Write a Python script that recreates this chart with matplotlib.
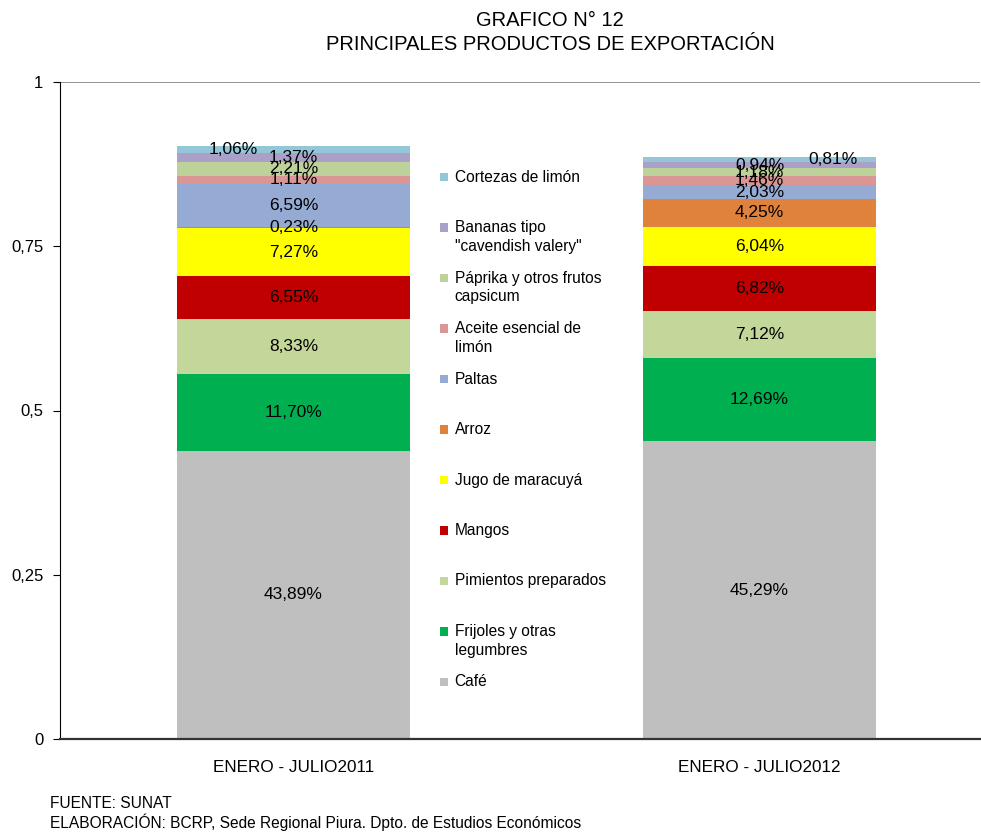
import matplotlib.pyplot as plt
from matplotlib.patches import Rectangle

plt.rcParams['font.family'] = ['Liberation Sans', 'DejaVu Sans']

periodos = ["ENERO - JULIO2011", "ENERO - JULIO2012"]

# bottom to top, as stacked in the bars
productos = ["Café", "Frijoles y otras\nlegumbres", "Pimientos preparados", "Mangos",
             "Jugo de maracuyá", "Arroz", "Paltas", "Aceite esencial de\nlimón",
             "Páprika y otros frutos\ncapsicum", "Bananas tipo\n\"cavendish valery\"",
             "Cortezas de limón"]
valores_2011 = [43.89, 11.70, 8.33, 6.55, 7.27, 0.23, 6.59, 1.11, 2.21, 1.37, 1.06]
valores_2012 = [45.29, 12.69, 7.12, 6.82, 6.04, 4.25, 2.03, 1.46, 1.18, 0.94, 0.81]
colores = ["#BFBFBF", "#00B050", "#C4D79B", "#C00000", "#FFFF00", "#E0823C",
           "#95ABD3", "#D99694", "#BDD29B", "#ABA0C8", "#93C7D8"]

yticks = [0, 0.25, 0.5, 0.75, 1]
ytick_labels = ["0", "0,25", "0,5", "0,75", "1"]

fig = plt.figure(figsize=(9.81, 8.36), dpi=100)
ax = fig.add_axes([60 / 981, 1 - 739 / 836, 920 / 981, 657 / 836])

x = [0, 1]
series = [valores_2011, valores_2012]
for xi, vals in zip(x, series):
    base = 0
    for i, v in enumerate(vals):
        h = v / 100
        ax.bar(xi, h, bottom=base, width=0.5, color=colores[i], linewidth=0)
        lbl = f"{v:.2f}%".replace(".", ",")
        dx = 0
        if i == len(vals) - 1:
            dx = -0.13 if xi == 0 else 0.157
        ax.text(xi + dx, base + h / 2, lbl, ha="center", va="center", fontsize=12.5)
        base += h

ax.set_xlim(-0.501, 1.473)
ax.set_ylim(0, 1)
ax.set_yticks(yticks)
ax.set_yticklabels(ytick_labels, fontsize=12)
ax.set_xticks(x)
ax.set_xticklabels(periodos, fontsize=12.3)
ax.tick_params(axis="x", length=0, pad=15)
ax.tick_params(axis="y", length=5, direction="out", pad=7)
ax.spines["top"].set_visible(False)
ax.spines["right"].set_visible(False)
ax.spines["bottom"].set_color("#333333")
ax.spines["bottom"].set_linewidth(1.6)
ax.axhline(1, color="#808080", linewidth=1.2)

# legend drawn by hand, reversed order, fixed spacing
step = 50.5 / 657
y0 = (739 - 177) / 657
for k, i in enumerate(range(len(productos) - 1, -1, -1)):
    yy = y0 - k * step
    ax.add_patch(Rectangle((0.4125, yy - 0.0065), 0.009, 0.013, transform=ax.transAxes,
                           color=colores[i], linewidth=0))
    for j, line in enumerate(productos[i].split("\n")):
        ax.text(0.429, yy - j * 19 / 657, line, transform=ax.transAxes,
                ha="left", va="center", fontsize=11.2)

fig.text(550 / 981, 1 - 20 / 836, "GRAFICO N° 12", ha="center", va="center", fontsize=14.5)
fig.text(550 / 981, 1 - 45 / 836, "PRINCIPALES PRODUCTOS DE EXPORTACIÓN",
         ha="center", va="center", fontsize=14.5)
fig.text(50 / 981, 1 - 803 / 836, "FUENTE: SUNAT", ha="left", va="center", fontsize=11.2)
fig.text(50 / 981, 1 - 822 / 836,
         "ELABORACIÓN: BCRP, Sede Regional Piura. Dpto. de Estudios Económicos",
         ha="left", va="center", fontsize=11.2)

fig.savefig("out.png", dpi=100)
